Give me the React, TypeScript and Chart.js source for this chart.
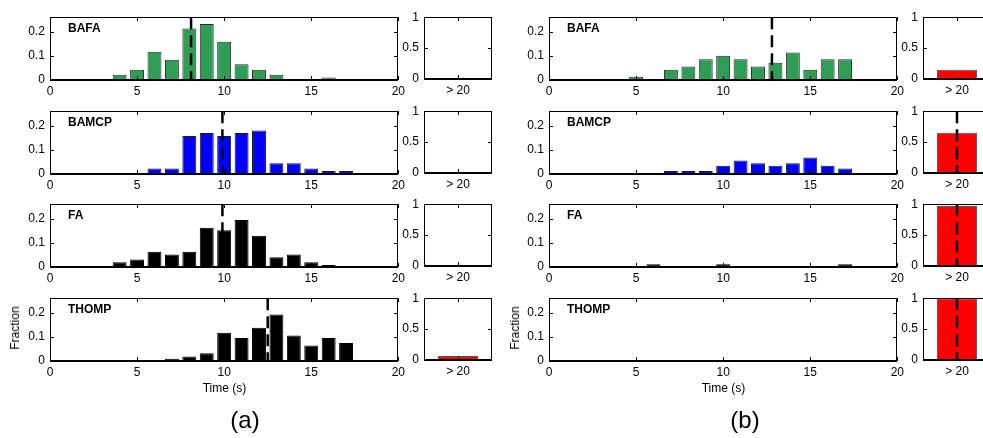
import React, { useEffect, useRef } from 'react';
import { Chart, registerables } from 'chart.js';

Chart.register(...registerables);

const FONT = "'Liberation Sans', Arial, Helvetica, sans-serif";
Chart.defaults.font.family = FONT;
Chart.defaults.font.size = 12;
Chart.defaults.color = '#000';

// ---------------- data ----------------
const methods = ['BAFA', 'BAMCP', 'FA', 'THOMP'];
const binCenters = [1, 2, 3, 4, 5, 6, 7, 8, 9, 10, 11, 12, 13, 14, 15, 16, 17, 18, 19];
const histXTicks = [0, 5, 10, 15, 20];
const histYTicks = [0, 0.1, 0.2];
const histYMax = 0.26;
const overflowLabels = ['> 20'];
const overflowYTicks = [0, 0.5, 1];

// panel (a)
const aBAFA = [0, 0, 0, 0.022, 0.042, 0.117, 0.084, 0.213, 0.232, 0.158, 0.065, 0.042, 0.022, 0, 0, 0.01, 0, 0, 0];
const aBAMCP = [0, 0, 0, 0, 0, 0.023, 0.023, 0.157, 0.17, 0.157, 0.17, 0.18, 0.044, 0.044, 0.023, 0.012, 0.012, 0, 0];
const aFA = [0, 0, 0, 0.02, 0.031, 0.063, 0.052, 0.063, 0.162, 0.152, 0.195, 0.129, 0.04, 0.052, 0.02, 0.008, 0, 0, 0];
const aTHOMP = [0, 0, 0, 0, 0, 0, 0.009, 0.019, 0.032, 0.117, 0.095, 0.138, 0.192, 0.106, 0.064, 0.095, 0.075, 0, 0];
const aOverflow = [0, 0, 0.01, 0.065];
const aMeanHist = [8.1, 9.9, 9.9, 12.5];
const aMeanOverflow = [false, false, false, false];

// panel (b)
const bBAFA = [0, 0, 0, 0, 0.013, 0, 0.042, 0.056, 0.086, 0.1, 0.086, 0.056, 0.071, 0.114, 0.042, 0.086, 0.086, 0, 0];
const bBAMCP = [0, 0, 0, 0, 0, 0, 0.012, 0.012, 0.012, 0.034, 0.056, 0.044, 0.034, 0.044, 0.068, 0.034, 0.023, 0, 0];
const bFA = [0, 0, 0, 0, 0, 0.011, 0, 0, 0, 0.011, 0, 0, 0, 0, 0, 0, 0.011, 0, 0];
const bTHOMP = [0, 0, 0, 0, 0, 0, 0, 0, 0, 0, 0, 0, 0, 0, 0, 0, 0, 0, 0];
const bOverflow = [0.15, 0.65, 0.97, 1.0];
const bMeanHist: (number | null)[] = [12.8, null, null, null];
const bMeanOverflow = [false, true, true, true];

const methodFill = ['#2f9e55', '#0000ff', '#000000', '#000000'];
const methodEdge = ['#2b2b2b', '#1a1a1a', '#000000', '#000000'];
const overflowFill = '#ff0000';
const overflowEdge = '#555555';

// ---------------- layout ----------------
const rowTops = [13, 107, 200, 294];
const HIST_W = 349;
const HIST_H = 67;
const BOX_W = 68;
const BOX_H = 66;
const groups = [
  { histX: 50, boxX: 424, hist: [aBAFA, aBAMCP, aFA, aTHOMP], over: aOverflow, meanH: aMeanHist as (number | null)[], meanO: aMeanOverflow, tag: '(a)', tagX: 245, fracX: 15 },
  { histX: 549, boxX: 923, hist: [bBAFA, bBAMCP, bFA, bTHOMP], over: bOverflow, meanH: bMeanHist, meanO: bMeanOverflow, tag: '(b)', tagX: 745, fracX: 515 },
];
const MT = 8;
const MB = 22;
const ML_H = 50;
const MR_H = 10;
const ML_B = 24;
const MR_B = 8;

const framePlugin = {
  id: 'frame',
  afterDatasetsDraw(chart: any, _args: any, opts: any) {
    const { ctx, chartArea: a } = chart;
    const L = Math.round(a.left), R = Math.round(a.right), T = Math.round(a.top), B = Math.round(a.bottom);
    ctx.save();
    ctx.strokeStyle = '#000';
    ctx.lineWidth = 1;
    ctx.setLineDash([]);
    ctx.beginPath();
    ctx.moveTo(L + 0.5, B);
    ctx.lineTo(L + 0.5, T + 0.5);
    ctx.lineTo(R - 0.5, T + 0.5);
    ctx.lineTo(R - 0.5, B);
    ctx.stroke();
    const xs = chart.scales.x, ys = chart.scales.y;
    const tl = 4;
    ctx.beginPath();
    xs.ticks.forEach((_t: any, i: number) => {
      const px = Math.round(xs.getPixelForTick(i)) + 0.5;
      ctx.moveTo(px, B); ctx.lineTo(px, B - tl);
      ctx.moveTo(px, T); ctx.lineTo(px, T + tl);
    });
    ys.ticks.forEach((_t: any, i: number) => {
      const py = Math.round(ys.getPixelForTick(i)) + 0.5;
      ctx.moveTo(L, py); ctx.lineTo(L + tl, py);
      ctx.moveTo(R, py); ctx.lineTo(R - tl, py);
    });
    ctx.stroke();
    ctx.lineWidth = 2;
    ctx.beginPath();
    ctx.moveTo(L, B); ctx.lineTo(R, B);
    ctx.stroke();
    if (opts && opts.label) {
      ctx.font = `bold 12px ${FONT}`;
      ctx.fillStyle = '#000';
      ctx.textBaseline = 'alphabetic';
      ctx.textAlign = 'left';
      ctx.fillText(opts.label, L + 18, T + 14.5);
    }
    ctx.restore();
  },
};

const dashed = { borderColor: '#000', borderWidth: 2.5, borderDash: [12, 6], pointRadius: 0, fill: false, tension: 0, order: 0 };

function histConfig(values: number[], fill: string, edge: string, mean: number | null, label: string): any {
  const datasets: any[] = [];
  if (mean != null) datasets.push({ type: 'line', data: [{ x: mean, y: histYMax }, { x: mean, y: 0 }], ...dashed });
  datasets.push({
    type: 'bar',
    data: binCenters.map((c, i) => ({ x: c, y: values[i] })),
    backgroundColor: fill, borderColor: edge, borderWidth: 1, borderSkipped: 'start',
    barPercentage: 0.8, categoryPercentage: 1, order: 1,
  });
  return {
    type: 'bar',
    data: { datasets },
    options: {
      responsive: false, animation: false, devicePixelRatio: 1,
      layout: { padding: { left: 0, top: MT, right: MR_H, bottom: 0 } },
      plugins: { legend: { display: false }, tooltip: { enabled: false }, frame: { label } },
      scales: {
        x: {
          type: 'linear', min: 0, max: 20, offset: false,
          grid: { display: false, drawTicks: false, tickLength: 0 }, border: { display: false },
          ticks: { padding: 4, color: '#000', font: { size: 12 }, maxRotation: 0, autoSkip: false, callback: (v: any) => String(v) },
          afterBuildTicks: (s: any) => { s.ticks = histXTicks.map((v) => ({ value: v })); },
          afterFit: (s: any) => { s.height = MB; },
        },
        y: {
          type: 'linear', min: 0, max: histYMax,
          grid: { display: false, drawTicks: false, tickLength: 0 }, border: { display: false },
          ticks: { padding: 5, color: '#000', font: { size: 12 }, autoSkip: false, callback: (v: any) => String(v) },
          afterBuildTicks: (s: any) => { s.ticks = histYTicks.map((v) => ({ value: v })); },
          afterFit: (s: any) => { s.width = ML_H; },
        },
      },
    },
    plugins: [framePlugin],
  };
}

function overflowConfig(value: number, showMean: boolean): any {
  const datasets: any[] = [];
  if (showMean) datasets.push({ type: 'line', data: [{ x: overflowLabels[0], y: 1 }, { x: overflowLabels[0], y: 0 }], ...dashed });
  datasets.push({
    type: 'bar', data: [value],
    backgroundColor: overflowFill, borderColor: overflowEdge, borderWidth: 1, borderSkipped: 'start',
    barPercentage: 0.59, categoryPercentage: 1, order: 1,
  });
  return {
    type: 'bar',
    data: { labels: overflowLabels, datasets },
    options: {
      responsive: false, animation: false, devicePixelRatio: 1,
      layout: { padding: { left: 0, top: MT, right: MR_B, bottom: 0 } },
      plugins: { legend: { display: false }, tooltip: { enabled: false }, frame: { label: '' } },
      scales: {
        x: {
          type: 'category', offset: true,
          grid: { display: false, drawTicks: false, tickLength: 0 }, border: { display: false },
          ticks: { padding: 4, color: '#000', font: { size: 12 }, maxRotation: 0, autoSkip: false },
          afterFit: (s: any) => { s.height = MB; },
        },
        y: {
          type: 'linear', min: 0, max: 1,
          grid: { display: false, drawTicks: false, tickLength: 0 }, border: { display: false },
          ticks: { padding: 5, color: '#000', font: { size: 12 }, autoSkip: false, callback: (v: any) => String(v) },
          afterBuildTicks: (s: any) => { s.ticks = overflowYTicks.map((v) => ({ value: v })); },
          afterFit: (s: any) => { s.width = ML_B; },
        },
      },
    },
    plugins: [framePlugin],
  };
}

function ChartCanvas({ left, top, width, height, config }: { left: number; top: number; width: number; height: number; config: any }) {
  const ref = useRef<HTMLCanvasElement>(null);
  useEffect(() => {
    const chart = new Chart(ref.current as HTMLCanvasElement, config);
    return () => chart.destroy();
  }, []);
  return (
    <canvas
      ref={ref}
      width={width}
      height={height}
      style={{ position: 'absolute', left, top, width, height, display: 'block' }}
    />
  );
}

const textBase: React.CSSProperties = {
  position: 'absolute', fontFamily: FONT, color: '#000', whiteSpace: 'nowrap', lineHeight: 1,
};

export default function App() {
  const items: React.ReactNode[] = [];
  groups.forEach((g, gi) => {
    methods.forEach((m, r) => {
      const top = rowTops[r];
      items.push(
        <ChartCanvas
          key={`h${gi}${r}`}
          left={g.histX - ML_H}
          top={top - MT}
          width={ML_H + HIST_W + MR_H}
          height={MT + HIST_H + MB}
          config={histConfig(g.hist[r], methodFill[r], methodEdge[r], g.meanH[r], m)}
        />
      );
      items.push(
        <ChartCanvas
          key={`o${gi}${r}`}
          left={g.boxX - ML_B}
          top={top - MT}
          width={ML_B + BOX_W + MR_B}
          height={MT + BOX_H + MB}
          config={overflowConfig(g.over[r], g.meanO[r])}
        />
      );
    });
    const lastTop = rowTops[3];
    items.push(
      <div key={`f${gi}`} style={{ ...textBase, fontSize: 12, left: g.fracX, top: lastTop + HIST_H / 2, transform: 'translate(-50%, -50%) rotate(-90deg)' }}>Fraction</div>
    );
    items.push(
      <div key={`t${gi}`} style={{ ...textBase, fontSize: 12, left: g.histX + HIST_W / 2, top: 388, transform: 'translate(-50%, -50%)' }}>Time (s)</div>
    );
    items.push(
      <div key={`g${gi}`} style={{ ...textBase, fontSize: 24, left: g.tagX, top: 420, transform: 'translate(-50%, -50%)' }}>{g.tag}</div>
    );
  });
  return (
    <div style={{ position: 'absolute', left: 0, top: 0, width: 983, height: 438, overflow: 'hidden', background: '#fff' }}>
      {items}
    </div>
  );
}
